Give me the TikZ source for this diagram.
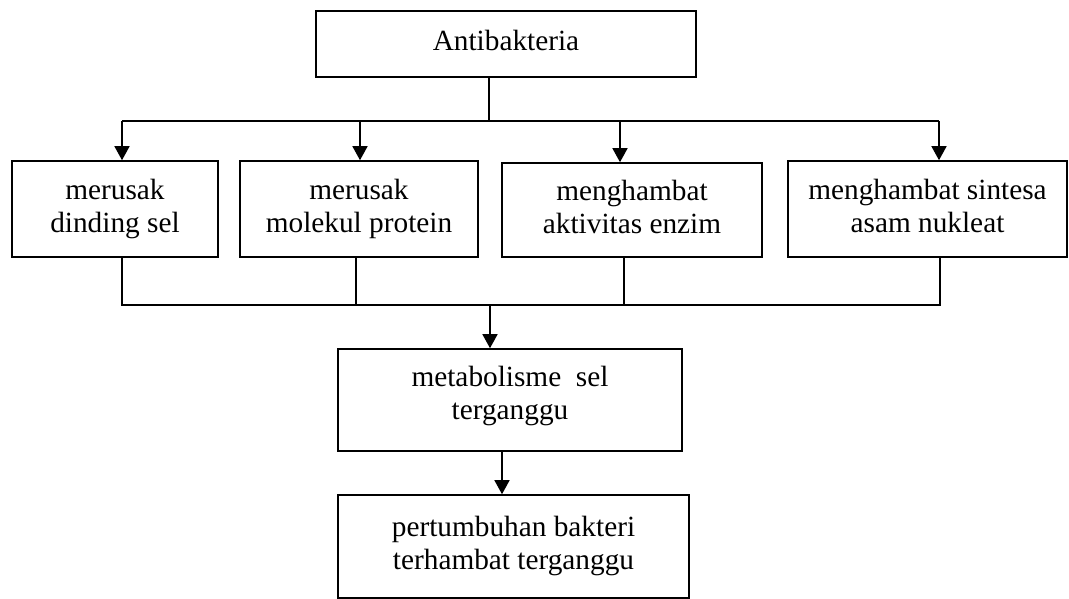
\documentclass[tikz,border=0pt]{standalone}
\usepackage{fontspec}
\setmainfont{Liberation Serif}
\usetikzlibrary{arrows.meta}
\newcommand\bxs{\rule[-9.9pt]{0pt}{33pt}}
\newcommand\bxd{\rule[-16.5pt]{0pt}{1pt}}
\begin{document}
\begin{tikzpicture}[x=1pt,y=-1pt,
  box/.style={draw, line width=1.6pt, inner sep=0pt, align=center,
    font=\fontsize{29.3}{33}\selectfont},
  conn/.style={line width=1.5pt},
  arr/.style={line width=1.5pt, -{Triangle[width=15pt,length=14pt]}}]
\useasboundingbox (0,0) rectangle (1069,599);

% boxes
\node[box, minimum width=380pt, minimum height=66pt] (top) at (506,44) {\bxs Antibakteria};
\node[box, minimum width=206pt, minimum height=96pt] (b1) at (115,209) {\bxs merusak\\\bxs dinding sel};
\node[box, minimum width=238pt, minimum height=96pt] (b2) at (359,209) {\bxs merusak\\\bxs molekul protein};
\node[box, minimum width=260pt, minimum height=94pt] (b3) at (632,210) {\bxs menghambat\\\bxs aktivitas enzim};
\node[box, minimum width=279pt, minimum height=96pt] (b4) at (927.5,209) {\bxs menghambat sintesa\\\bxs asam nukleat};
\node[box, minimum width=344pt, minimum height=102pt] (meta) at (510,400) {\bxs metabolisme\ \ sel\\\bxs\bxd terganggu};
\node[box, minimum width=351pt, minimum height=103pt] (grow) at (513.5,546.5) {\bxs pertumbuhan bakteri\\\bxs terhambat terganggu};

% upper bus
\coordinate (j0) at (489,121);
\coordinate (a1) at (122,121);
\coordinate (a2) at (360,121);
\coordinate (a3) at (620,121);
\coordinate (a4) at (939,121);
\draw[conn] (top.south -| j0) -- (j0);
\draw[conn] (a1) -- (a4);
\draw[arr] (a1) -- (a1 |- b1.north);
\draw[arr] (a2) -- (a2 |- b2.north);
\draw[arr] (a3) -- (a3 |- b3.north);
\draw[arr] (a4) -- (a4 |- b4.north);

% lower bus
\coordinate (d1) at (122,305);
\coordinate (d2) at (356,305);
\coordinate (d3) at (624,305);
\coordinate (d4) at (940,305);
\coordinate (j1) at (490,305);
\draw[conn] (d1 |- b1.south) -- (d1) -- (d4) -- (d4 |- b4.south);
\draw[conn] (d2 |- b2.south) -- (d2);
\draw[conn] (d3 |- b3.south) -- (d3);
\draw[arr] (j1) -- (j1 |- meta.north);

% last arrow
\coordinate (k1) at (502,0);
\draw[arr] (k1 |- meta.south) -- (k1 |- grow.north);
\end{tikzpicture}
\end{document}
